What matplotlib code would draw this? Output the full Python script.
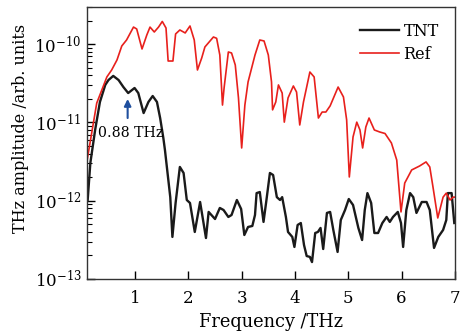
import numpy as np
import matplotlib
matplotlib.use("Agg")
import matplotlib.pyplot as plt
from matplotlib.ticker import FixedLocator, LogLocator, NullFormatter

plt.rcParams['font.family'] = ['DejaVu Serif']
plt.rcParams['mathtext.fontset'] = 'dejavuserif'

# reference spectrum (amplitude in units of 1e-12)
ref_freq = [0.10, 0.28, 0.47, 0.56, 0.66, 0.75, 0.84, 0.97, 1.03, 1.13,
            1.22, 1.28, 1.36, 1.44, 1.51, 1.58, 1.62, 1.71, 1.76, 1.84,
            1.94, 2.03, 2.11, 2.17, 2.25, 2.31, 2.47, 2.53, 2.59, 2.64,
            2.67, 2.75, 2.81, 2.88, 2.94, 3.00, 3.06, 3.12, 3.25, 3.34,
            3.42, 3.50, 3.56, 3.58, 3.64, 3.69, 3.76, 3.80, 3.87, 3.97,
            4.03, 4.09, 4.16, 4.28, 4.36, 4.44, 4.51, 4.58, 4.66, 4.81,
            4.91, 4.97, 5.02, 5.09, 5.16, 5.22, 5.27, 5.33, 5.39, 5.49,
            5.59, 5.69, 5.81, 5.91, 5.99, 6.06, 6.19, 6.34, 6.46, 6.53,
            6.59, 6.68, 6.78, 6.84, 6.91, 6.97, 7.00]
ref_amp = [3.31, 17.7, 38.2, 46.9, 63.0, 95.1, 113.5, 166, 157, 87.1,
           131.5, 166, 143.6, 166, 195.9, 161.5, 61.1, 61.1, 135.5, 152.4,
           139.6, 171.4, 113.5, 46.9, 66.8, 92.4, 123.9, 119.3, 72.9, 16.7,
           27.6, 79.7, 77.4, 54.3, 20.6, 4.72, 16.7, 33.0, 72.9, 113.5,
           110.2, 72.9, 33.0, 14.5, 18.3, 30.2, 23.8, 10.1, 20.6, 29.3,
           24.5, 9.29, 18.3, 44.2, 38.2, 11.4, 13.6, 13.6, 16.3, 28.4,
           21.2, 10.8, 2.01, 6.53, 10.1, 8.02, 4.72, 8.75, 11.4, 8.02,
           7.56, 7.23, 5.47, 3.31, 0.718, 1.68, 2.47, 2.78, 3.13, 2.70,
           1.50, 0.601, 1.11, 1.25, 1.02, 1.11, 1.11]

# TNT spectrum (amplitude in units of 1e-12)
tnt_freq = [0.11, 0.16, 0.25, 0.34, 0.44, 0.50, 0.59, 0.69, 0.78, 0.87,
            0.99, 1.06, 1.16, 1.25, 1.33, 1.41, 1.47, 1.53, 1.56, 1.66,
            1.70, 1.76, 1.84, 1.91, 1.97, 2.03, 2.12, 2.22, 2.33, 2.38,
            2.50, 2.59, 2.66, 2.75, 2.81, 2.91, 2.99, 3.05, 3.12, 3.20,
            3.25, 3.28, 3.34, 3.41, 3.46, 3.53, 3.59, 3.66, 3.72, 3.76,
            3.83, 3.87, 3.95, 3.99, 4.05, 4.11, 4.17, 4.22, 4.28, 4.32,
            4.38, 4.43, 4.48, 4.53, 4.60, 4.66, 4.72, 4.80, 4.86, 4.94,
            5.01, 5.09, 5.19, 5.26, 5.31, 5.36, 5.43, 5.49, 5.56, 5.64,
            5.72, 5.78, 5.84, 5.93, 5.99, 6.03, 6.09, 6.16, 6.22, 6.28,
            6.38, 6.47, 6.53, 6.61, 6.69, 6.78, 6.84, 6.87, 6.94, 6.99]
tnt_amp = [1.02, 3.03, 8.02, 18.3, 30.2, 34.9, 39.4, 34.9, 28.4, 23.8,
           27.6, 23.8, 13.2, 18.3, 21.8, 18.3, 11.4, 6.34, 4.45, 1.11,
           0.344, 0.935, 2.70, 2.26, 1.02, 0.935, 0.398, 0.962, 0.333, 0.718,
           0.583, 0.807, 0.760, 0.619, 0.656, 1.02, 0.783, 0.364, 0.461, 0.475,
           0.656, 1.25, 1.29, 0.535, 0.962, 2.26, 2.13, 1.11, 1.02, 1.11,
           0.619, 0.398, 0.344, 0.256, 0.489, 0.518, 0.271, 0.196, 0.191, 0.164,
           0.386, 0.398, 0.448, 0.241, 0.697, 0.718, 0.422, 0.221, 0.566, 0.760,
           1.05, 0.881, 0.448, 0.314, 0.760, 1.25, 0.935, 0.386, 0.386, 0.518,
           0.619, 0.535, 0.619, 0.718, 0.518, 0.256, 0.760, 1.25, 1.11, 0.697,
           0.962, 0.962, 0.760, 0.249, 0.344, 0.422, 0.566, 1.25, 1.25, 0.518]

xticks = [1, 2, 3, 4, 5, 6, 7]
yticks = [1e-13, 1e-12, 1e-11, 1e-10]

fig = plt.figure(figsize=(4.66, 3.32), dpi=100)
ax = fig.add_axes([0.187, 0.160, 0.789, 0.819])

ax.plot(tnt_freq, np.array(tnt_amp) * 1e-12, color='#1a1a1a', lw=1.7, label='TNT')
ax.plot(ref_freq, np.array(ref_amp) * 1e-12, color='#e8201c', lw=1.2, label='Ref')

ax.set_yscale('log')
ax.set_xlim(0.1, 7)
ax.set_ylim(1e-13, 3e-10)
ax.set_xticks(xticks)
ax.yaxis.set_major_locator(FixedLocator(yticks))
ax.yaxis.set_minor_locator(LogLocator(base=10, subs=np.arange(2, 10), numticks=10))
ax.yaxis.set_minor_formatter(NullFormatter())
ax.tick_params(axis='both', which='major', direction='in', length=6, width=1,
               labelsize=12, top=False, right=False)
ax.tick_params(axis='y', which='minor', direction='in', length=3.5, width=0.8, right=False)
ax.tick_params(axis='x', pad=8)
ax.tick_params(axis='y', pad=4)

for s in ax.spines.values():
    s.set_color('#333333')
    s.set_linewidth(1.0)

ax.set_xlabel('Frequency /THz', fontsize=12.8, labelpad=4)
ax.set_ylabel('THz amplitude /arb. units', fontsize=11.5)
ax.yaxis.set_label_coords(-0.158, 0.555)

# peak marker
ax.annotate('', xy=(0.86, 2.0e-11), xytext=(0.86, 1.14e-11),
            arrowprops=dict(arrowstyle='-|>', color='#1f4f9e', lw=1.5,
                            mutation_scale=10, shrinkA=0, shrinkB=0))
ax.text(0.31, 7.3e-12, '0.88 THz', fontsize=10.2, va='center', ha='left')

ax.legend(loc='upper right', frameon=False, fontsize=11.5, handlelength=2.4,
          handletextpad=0.3, labelspacing=0.35, borderaxespad=0.6)

fig.savefig('out.png', dpi=100)
